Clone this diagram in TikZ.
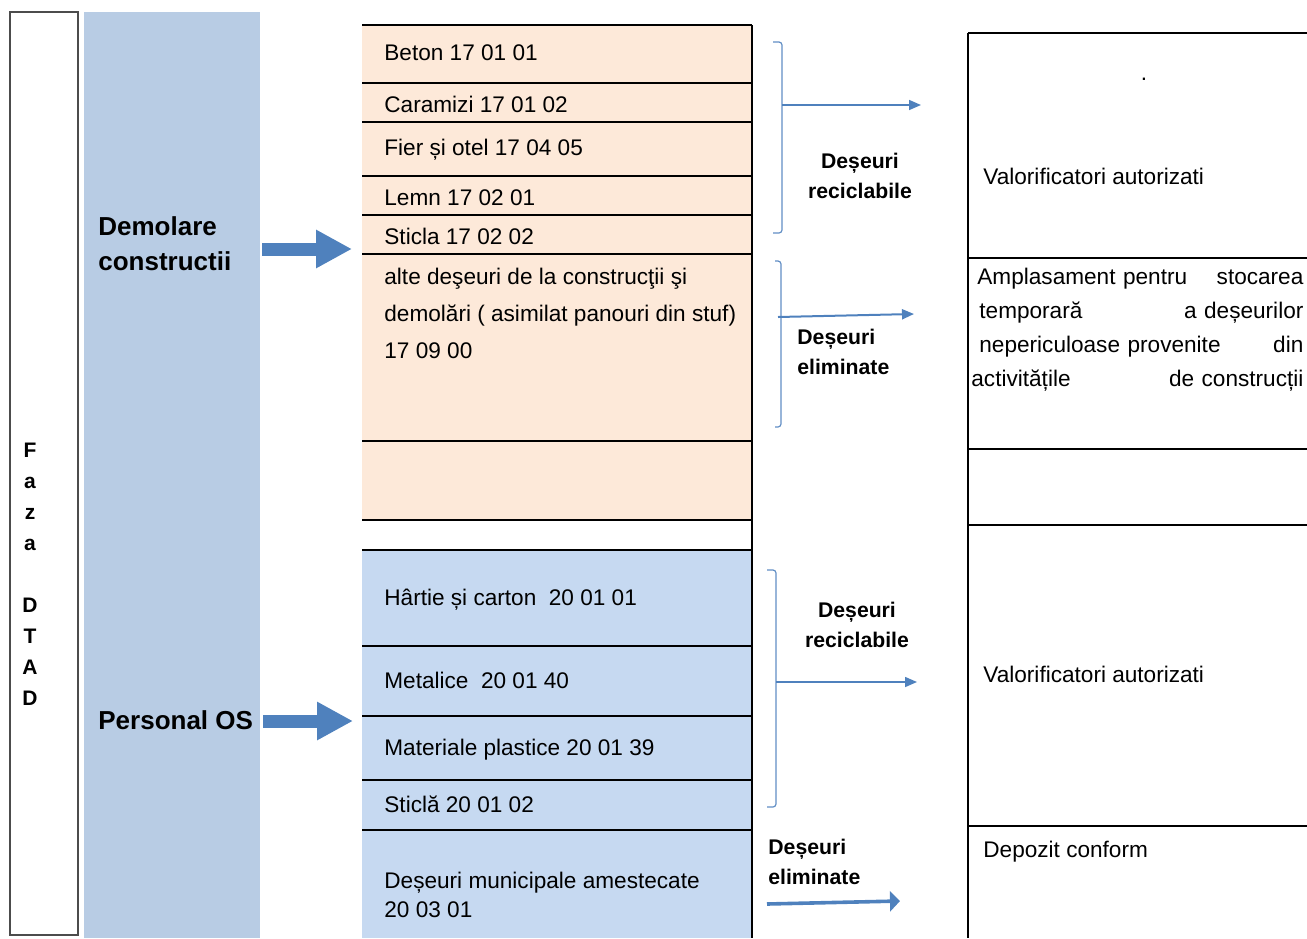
\documentclass[tikz,border=0pt]{standalone}
\usepackage{fontspec}
\setmainfont{Liberation Sans}
\usetikzlibrary{arrows.meta}
\definecolor{colLeft}{RGB}{184,204,228}
\definecolor{colPeach}{RGB}{253,233,217}
\definecolor{colSky}{RGB}{198,217,241}
\definecolor{arrBlue}{RGB}{79,129,189}
\tikzset{
  rowtxt/.style={anchor=base west, inner sep=0pt, font=\fontsize{11.3pt}{18.5pt}\selectfont},
  lbltxt/.style={anchor=base, inner sep=0pt, align=center, font=\fontsize{10.6pt}{15pt}\selectfont\bfseries},
  bigtxt/.style={anchor=base west, inner sep=0pt, align=left, font=\fontsize{13pt}{17.5pt}\selectfont\bfseries},
  blockarrow/.style={arrBlue, line width=6.5pt, -{Triangle[length=18pt,width=18pt]}},
  flowarrow/.style={arrBlue, line width=0.8pt, -{Triangle[length=6pt,width=5pt]}},
  bracket/.style={arrBlue!90, line width=0.6pt, rounded corners=1.5pt},
  rule/.style={line width=1pt}
}
\begin{document}
\begin{tikzpicture}[x=0.5pt, y=-0.5pt]
    \useasboundingbox (0,0) rectangle (1307,938);

    % Phase column (base anchor sits on the last line)
    \draw[black!70, line width=0.6pt] (10,12) rectangle (78,935);
    \node[anchor=base, inner sep=0pt, align=center, font=\fontsize{10.5pt}{15.5pt}\selectfont\bfseries]
        (faza) at (30,705) {F\\a\\z\\a\\[15.5pt]D\\T\\A\\D};

    % Activity column
    \fill[colLeft] (84,12) rectangle (260,938);
    \node[bigtxt] (demol) at (98,270) {Demolare\\constructii};
    \node[bigtxt] (pers) at (98,729) {Personal OS};

    % Block arrows into the waste lists
    \coordinate (demolS) at (262,249);
    \coordinate (demolE) at (352,249);
    \draw[blockarrow] (demolS) -- (demolE);
    \coordinate (persS) at (263,721);
    \coordinate (persE) at (353,721);
    \draw[blockarrow] (persS) -- (persE);

    % Waste lists (construction / personnel)
    \fill[colPeach] (362,25) rectangle (752,520);
    \fill[colSky] (362,550) rectangle (752,938);
    \foreach \yy in {25,83,122,176,215,254,441,520,550,646,716,780,830}
        \draw[rule] (362,\yy) -- (752,\yy);
    \draw[rule] (752,25) -- (752,938);

    \node[rowtxt] (beton) at (384,60) {Beton 17 01 01};
    \node[rowtxt] (caram) at (384,112) {Caramizi 17 01 02};
    \node[rowtxt] (fier) at (384,155) {Fier și otel 17 04 05};
    \node[rowtxt] (lemn) at (384,205) {Lemn 17 02 01};
    \node[rowtxt] (sticla) at (384,244) {Sticla 17 02 02};
    \node[rowtxt, align=left] (alte) at (384,358)
        {alte deşeuri de la construcţii şi\\demolări ( asimilat panouri din stuf)\\17 09 00};
    \node[rowtxt] (hartie) at (384,605) {Hârtie și carton~ 20 01 01};
    \node[rowtxt] (metal) at (384,688) {Metalice~ 20 01 40};
    \node[rowtxt] (plast) at (384,755) {Materiale plastice 20 01 39};
    \node[rowtxt] (sticlb) at (384,812) {Sticlă 20 01 02};
    \node[rowtxt, align=left, font=\fontsize{11.3pt}{14.5pt}\selectfont] (munic) at (384,917)
        {Deșeuri municipale amestecate\\20 03 01};

    % Brackets and flows
    \draw[bracket] (773,42) -- (782,42) -- (782,233) -- (773,233);
    \coordinate (rec1S) at (782,105);
    \coordinate (rec1E) at (921,105);
    \draw[flowarrow] (rec1S) -- (rec1E);
    \node[lbltxt] (rec1) at (860,198) {Deșeuri\\reciclabile};

    \draw[bracket] (775,261) -- (781,261) -- (781,427) -- (775,427);
    \coordinate (elim1S) at (778,317);
    \coordinate (elim1E) at (914,314);
    \draw[flowarrow, line width=1pt] (elim1S) -- (elim1E);
    \node[lbltxt, align=left, anchor=base west] (elim1) at (797,374) {Deșeuri\\eliminate};

    \draw[bracket] (767,570) -- (776,570) -- (776,807) -- (767,807);
    \coordinate (rec2S) at (776,682);
    \coordinate (rec2E) at (917,682);
    \draw[flowarrow] (rec2S) -- (rec2E);
    \node[lbltxt] (rec2) at (857,647) {Deșeuri\\reciclabile};

    \coordinate (elim2S) at (767,904);
    \coordinate (elim2E) at (900,901);
    \draw[arrBlue, line width=1.8pt, -{Triangle[length=5pt,width=10pt]}] (elim2S) -- (elim2E);
    \node[lbltxt, align=left, anchor=base west] (elim2) at (768,884) {Deșeuri\\eliminate};

    % Destinations
    \draw[rule] (968,33) -- (968,938);
    \foreach \yy in {33,258,449,525,826}
        \draw[rule] (968,\yy) -- (1307,\yy);

    \node[rowtxt, anchor=base] (dot) at (1144,80) {.};
    \node[rowtxt] (valor1) at (983,184) {Valorificatori autorizati};
    \node[rowtxt, text width=166pt, font=\fontsize{11.3pt}{17pt}\selectfont] (amplas) at (971,284)
        {\hspace*{3pt}Amplasament pentru\hfill stocarea\hspace*{2pt}\\
         \hspace*{4pt}temporară\hfill a deșeurilor\hspace*{3pt}\\
         \hspace*{4pt}nepericuloase provenite\hfill din\hspace*{3pt}\\
         activitățile\hfill de construcții};
    \node[rowtxt] (valor2) at (983,682) {Valorificatori autorizati};
    \node[rowtxt] (depoz) at (983,857) {Depozit conform};
\end{tikzpicture}
\end{document}
